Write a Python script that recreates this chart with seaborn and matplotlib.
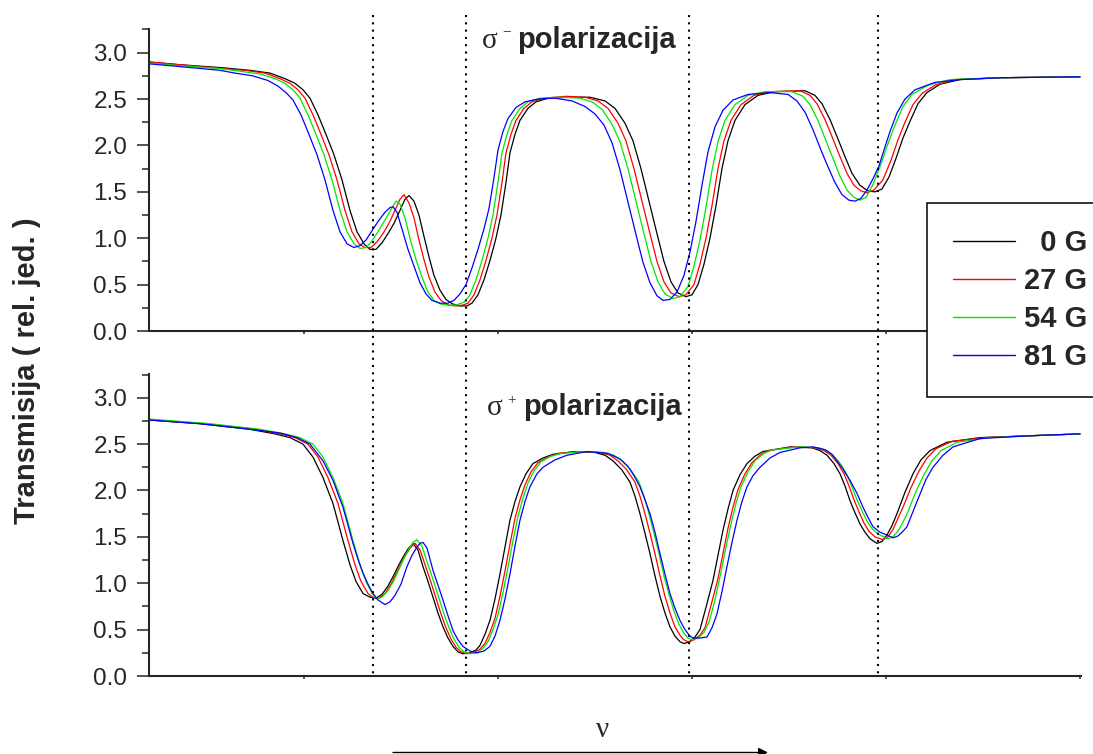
import matplotlib
matplotlib.use('Agg')
import matplotlib.pyplot as plt
import matplotlib.transforms as mtransforms
from matplotlib.lines import Line2D
from matplotlib.patches import FancyArrowPatch
from matplotlib.ticker import MultipleLocator
import seaborn as sns
import pandas as pd

sns.set_style('ticks')
plt.rcParams['font.family'] = ['Liberation Sans', 'DejaVu Sans']

## podaci ocitani sa slike: (frekvencija u rel. jed., transmisija)
polja = ['0 G', '27 G', '54 G', '81 G']
boje = ['#000000', '#ff0000', '#00e600', '#0000ff']

## sigma- polarizacija
minus_0G = [(149, 2.90), (180, 2.87), (220, 2.84), (250, 2.81), (270, 2.78), (285, 2.72), (295, 2.67),
            (303, 2.60), (310, 2.51), (318, 2.33), (326, 2.12), (334, 1.90), (342, 1.63), (350, 1.30),
            (357, 1.07), (364, 0.94), (370, 0.88), (376, 0.88), (382, 0.95), (388, 1.05), (394, 1.16),
            (400, 1.30), (405, 1.42), (409, 1.46), (414, 1.40), (419, 1.25), (424, 1.02), (429, 0.80),
            (434, 0.60), (440, 0.44), (446, 0.34), (453, 0.29), (460, 0.27), (467, 0.27), (472, 0.30),
            (478, 0.39), (484, 0.55), (490, 0.76), (496, 1.00), (501, 1.25), (506, 1.60), (510, 1.92),
            (515, 2.12), (520, 2.27), (528, 2.40), (536, 2.47), (548, 2.51), (570, 2.52), (590, 2.52),
            (605, 2.48), (615, 2.40), (625, 2.24), (633, 2.05), (641, 1.75), (649, 1.40), (657, 1.05),
            (664, 0.75), (671, 0.53), (678, 0.41), (686, 0.37), (692, 0.39), (698, 0.50), (704, 0.72),
            (710, 1.00), (716, 1.35), (722, 1.75), (728, 2.05), (735, 2.27), (745, 2.44), (758, 2.54),
            (775, 2.58), (805, 2.59), (815, 2.54), (822, 2.45), (830, 2.28), (838, 2.07), (845, 1.88),
            (852, 1.70), (860, 1.57), (868, 1.51), (875, 1.50), (882, 1.53), (889, 1.66), (896, 1.86),
            (903, 2.08), (910, 2.26), (918, 2.45), (927, 2.57), (940, 2.66), (960, 2.71), (1000, 2.73),
            (1080, 2.74)]
minus_27G = [(149, 2.90), (180, 2.87), (220, 2.83), (245, 2.81), (265, 2.78), (280, 2.72), (290, 2.67),
             (298, 2.60), (305, 2.51), (313, 2.33), (321, 2.12), (329, 1.90), (337, 1.63), (345, 1.30),
             (352, 1.07), (359, 0.94), (365, 0.90), (371, 0.90), (377, 0.96), (383, 1.05), (389, 1.16),
             (395, 1.30), (400, 1.42), (404, 1.47), (409, 1.38), (414, 1.22), (419, 0.98), (424, 0.77),
             (429, 0.58), (435, 0.42), (441, 0.33), (448, 0.28), (456, 0.27), (463, 0.28), (468, 0.30),
             (474, 0.39), (480, 0.55), (486, 0.76), (492, 1.00), (497, 1.25), (502, 1.60), (506, 1.92),
             (511, 2.12), (516, 2.27), (524, 2.40), (532, 2.47), (544, 2.51), (566, 2.53), (585, 2.52),
             (598, 2.48), (608, 2.40), (618, 2.24), (626, 2.05), (634, 1.75), (642, 1.40), (650, 1.05),
             (657, 0.75), (664, 0.53), (671, 0.41), (679, 0.37), (686, 0.39), (694, 0.50), (700, 0.72),
             (706, 1.00), (712, 1.35), (718, 1.75), (724, 2.05), (731, 2.27), (741, 2.44), (754, 2.54),
             (771, 2.58), (800, 2.59), (810, 2.54), (817, 2.45), (825, 2.28), (833, 2.07), (840, 1.88),
             (847, 1.70), (854, 1.57), (861, 1.51), (867, 1.49), (874, 1.52), (883, 1.63), (891, 1.84),
             (898, 2.06), (905, 2.25), (913, 2.44), (922, 2.56), (935, 2.65), (955, 2.71), (1000, 2.73),
             (1080, 2.74)]
minus_54G = [(149, 2.89), (180, 2.86), (220, 2.83), (240, 2.80), (260, 2.77), (275, 2.72), (285, 2.67),
             (293, 2.60), (300, 2.51), (308, 2.33), (316, 2.12), (324, 1.90), (332, 1.63), (340, 1.30),
             (347, 1.07), (354, 0.94), (360, 0.89), (366, 0.90), (372, 0.97), (378, 1.07), (384, 1.18),
             (390, 1.29), (396, 1.40), (400, 1.37), (405, 1.22), (410, 1.00), (416, 0.77), (422, 0.58),
             (428, 0.42), (434, 0.33), (441, 0.29), (448, 0.28), (456, 0.28), (464, 0.31), (470, 0.39),
             (476, 0.55), (482, 0.76), (488, 1.00), (493, 1.25), (498, 1.60), (502, 1.92), (507, 2.12),
             (512, 2.27), (520, 2.40), (528, 2.47), (540, 2.51), (560, 2.52), (580, 2.51), (592, 2.47),
             (602, 2.39), (612, 2.23), (620, 2.04), (628, 1.75), (636, 1.40), (644, 1.05), (651, 0.75),
             (658, 0.53), (665, 0.40), (673, 0.35), (680, 0.37), (688, 0.48), (694, 0.70), (700, 0.98),
             (706, 1.33), (712, 1.73), (718, 2.04), (725, 2.27), (735, 2.44), (748, 2.54), (765, 2.58),
             (792, 2.58), (803, 2.53), (810, 2.44), (818, 2.27), (826, 2.05), (833, 1.86), (840, 1.67),
             (847, 1.52), (854, 1.44), (860, 1.41), (866, 1.44), (873, 1.58), (881, 1.80), (888, 2.02),
             (895, 2.22), (903, 2.42), (912, 2.55), (928, 2.65), (950, 2.71), (1000, 2.73), (1080, 2.74)]
minus_81G = [(149, 2.88), (180, 2.85), (220, 2.81), (235, 2.78), (253, 2.75), (268, 2.70), (278, 2.64),
             (286, 2.57), (293, 2.49), (301, 2.33), (309, 2.12), (317, 1.90), (325, 1.63), (333, 1.30),
             (340, 1.07), (347, 0.94), (354, 0.90), (360, 0.92), (366, 0.98), (372, 1.08), (378, 1.18),
             (385, 1.28), (390, 1.33), (393, 1.34), (397, 1.28), (402, 1.10), (408, 0.88), (414, 0.70),
             (420, 0.52), (426, 0.40), (432, 0.33), (440, 0.30), (448, 0.30), (454, 0.33), (460, 0.40),
             (466, 0.50), (472, 0.68), (478, 0.88), (484, 1.10), (489, 1.32), (494, 1.65), (498, 1.95),
             (503, 2.15), (508, 2.29), (516, 2.41), (525, 2.47), (538, 2.50), (555, 2.51), (572, 2.48),
             (585, 2.42), (595, 2.34), (604, 2.22), (612, 2.03), (620, 1.74), (628, 1.39), (636, 1.04),
             (643, 0.74), (650, 0.52), (657, 0.38), (663, 0.33), (670, 0.34), (677, 0.42), (684, 0.60),
             (690, 0.85), (696, 1.18), (702, 1.57), (708, 1.93), (715, 2.20), (723, 2.38), (733, 2.49),
             (748, 2.55), (770, 2.57), (788, 2.55), (797, 2.48), (805, 2.36), (813, 2.17), (821, 1.95),
             (828, 1.77), (835, 1.60), (842, 1.47), (849, 1.41), (855, 1.40), (861, 1.43), (867, 1.52),
             (873, 1.64), (879, 1.78), (884, 1.95), (890, 2.15), (897, 2.35), (905, 2.50), (915, 2.60),
             (935, 2.68), (960, 2.71), (1000, 2.73), (1080, 2.74)]

## sigma+ polarizacija
plus_0G = [(149, 2.76), (200, 2.72), (250, 2.66), (275, 2.61), (290, 2.57), (303, 2.50), (313, 2.36),
           (323, 2.14), (333, 1.86), (343, 1.46), (350, 1.20), (356, 1.02), (363, 0.89), (370, 0.85),
           (376, 0.84), (382, 0.88), (388, 0.97), (393, 1.07), (398, 1.18), (403, 1.28), (408, 1.37),
           (413, 1.43), (418, 1.36), (423, 1.18), (428, 1.02), (433, 0.85), (438, 0.68), (443, 0.53),
           (448, 0.41), (453, 0.32), (458, 0.26), (463, 0.24), (470, 0.25), (476, 0.28), (480, 0.33),
           (485, 0.45), (490, 0.60), (495, 0.83), (500, 1.10), (505, 1.39), (510, 1.68), (515, 1.88),
           (520, 2.04), (526, 2.18), (533, 2.29), (543, 2.35), (553, 2.39), (575, 2.42), (595, 2.41),
           (605, 2.38), (613, 2.32), (622, 2.22), (630, 2.09), (635, 1.94), (640, 1.75), (645, 1.54),
           (650, 1.32), (655, 1.08), (660, 0.86), (665, 0.68), (670, 0.53), (675, 0.43), (680, 0.37),
           (684, 0.35), (690, 0.37), (695, 0.42), (700, 0.50), (706, 0.74), (713, 1.03), (718, 1.30),
           (723, 1.57), (728, 1.80), (733, 2.00), (740, 2.17), (747, 2.29), (755, 2.37), (763, 2.42),
           (790, 2.47), (812, 2.46), (820, 2.43), (827, 2.38), (834, 2.29), (840, 2.18), (845, 2.05),
           (850, 1.89), (855, 1.76), (860, 1.64), (865, 1.55), (870, 1.48), (877, 1.43), (882, 1.45),
           (887, 1.52), (892, 1.62), (897, 1.75), (905, 1.98), (913, 2.18), (921, 2.33), (930, 2.43),
           (947, 2.52), (980, 2.57), (1030, 2.59), (1080, 2.61)]
plus_27G = [(149, 2.76), (205, 2.72), (255, 2.66), (280, 2.61), (295, 2.57), (308, 2.50), (318, 2.36),
            (328, 2.14), (338, 1.86), (348, 1.46), (355, 1.20), (361, 1.02), (368, 0.89), (374, 0.84),
            (379, 0.84), (385, 0.89), (391, 0.99), (396, 1.10), (401, 1.21), (406, 1.31), (411, 1.39),
            (415, 1.43), (420, 1.36), (426, 1.17), (431, 1.01), (436, 0.84), (441, 0.67), (446, 0.52),
            (451, 0.40), (456, 0.31), (461, 0.26), (467, 0.24), (474, 0.25), (480, 0.29), (485, 0.35),
            (490, 0.47), (495, 0.62), (500, 0.86), (505, 1.13), (510, 1.42), (515, 1.70), (520, 1.90),
            (525, 2.06), (531, 2.20), (538, 2.30), (548, 2.36), (558, 2.40), (580, 2.42), (600, 2.41),
            (610, 2.38), (618, 2.32), (627, 2.22), (635, 2.09), (640, 1.94), (645, 1.75), (650, 1.54),
            (655, 1.32), (660, 1.08), (665, 0.86), (670, 0.68), (675, 0.53), (680, 0.44), (684, 0.39),
            (688, 0.37), (694, 0.39), (700, 0.44), (705, 0.52), (711, 0.76), (718, 1.05), (723, 1.32),
            (728, 1.59), (733, 1.82), (738, 2.01), (745, 2.18), (752, 2.30), (760, 2.38), (768, 2.43),
            (795, 2.47), (816, 2.46), (824, 2.43), (831, 2.38), (838, 2.29), (844, 2.18), (849, 2.05),
            (854, 1.90), (859, 1.77), (864, 1.65), (869, 1.56), (875, 1.50), (883, 1.47), (888, 1.50),
            (893, 1.58), (898, 1.70), (903, 1.82), (911, 2.03), (919, 2.21), (927, 2.35), (936, 2.45),
            (952, 2.53), (985, 2.57), (1030, 2.59), (1080, 2.61)]
plus_54G = [(149, 2.77), (210, 2.72), (260, 2.66), (285, 2.61), (300, 2.57), (313, 2.50), (323, 2.36),
            (333, 2.14), (343, 1.86), (353, 1.46), (360, 1.20), (366, 1.02), (372, 0.89), (377, 0.83),
            (382, 0.85), (388, 0.92), (394, 1.03), (399, 1.15), (404, 1.27), (409, 1.37), (413, 1.44),
            (417, 1.47), (422, 1.40), (428, 1.20), (434, 1.01), (439, 0.84), (444, 0.67), (449, 0.52),
            (454, 0.40), (459, 0.31), (464, 0.26), (470, 0.24), (477, 0.25), (483, 0.30), (488, 0.37),
            (493, 0.50), (498, 0.66), (503, 0.90), (508, 1.17), (513, 1.46), (518, 1.72), (523, 1.92),
            (528, 2.08), (534, 2.21), (541, 2.31), (551, 2.37), (562, 2.40), (585, 2.42), (604, 2.41),
            (614, 2.38), (622, 2.32), (631, 2.22), (639, 2.09), (644, 1.94), (649, 1.75), (654, 1.54),
            (659, 1.32), (664, 1.08), (669, 0.88), (674, 0.70), (679, 0.56), (684, 0.46), (688, 0.41),
            (692, 0.39), (698, 0.41), (704, 0.47), (709, 0.58), (715, 0.82), (721, 1.12), (726, 1.39),
            (731, 1.64), (736, 1.86), (741, 2.04), (748, 2.20), (755, 2.32), (764, 2.40), (773, 2.44),
            (800, 2.47), (819, 2.46), (827, 2.43), (834, 2.37), (841, 2.28), (847, 2.17), (852, 2.04),
            (857, 1.90), (862, 1.78), (867, 1.67), (872, 1.59), (878, 1.53), (888, 1.48), (893, 1.50),
            (898, 1.56), (903, 1.66), (908, 1.77), (916, 1.99), (924, 2.17), (932, 2.32), (941, 2.43),
            (957, 2.52), (990, 2.57), (1030, 2.59), (1080, 2.61)]
plus_81G = [(149, 2.76), (200, 2.72), (250, 2.66), (280, 2.62), (297, 2.57), (310, 2.50), (323, 2.32),
            (333, 2.11), (343, 1.82), (353, 1.43), (358, 1.26), (363, 1.11), (368, 0.99), (373, 0.89),
            (378, 0.82), (385, 0.77), (390, 0.80), (395, 0.87), (401, 0.99), (407, 1.18), (412, 1.30),
            (417, 1.39), (420, 1.43), (423, 1.44), (427, 1.38), (433, 1.14), (438, 0.98), (443, 0.82),
            (448, 0.65), (453, 0.49), (458, 0.39), (463, 0.32), (470, 0.27), (477, 0.25), (484, 0.27),
            (490, 0.32), (495, 0.43), (500, 0.60), (505, 0.83), (510, 1.10), (515, 1.40), (520, 1.68),
            (525, 1.88), (530, 2.04), (537, 2.18), (543, 2.25), (555, 2.33), (567, 2.38), (587, 2.42),
            (608, 2.40), (620, 2.34), (628, 2.26), (634, 2.16), (640, 2.04), (645, 1.90), (650, 1.75),
            (655, 1.55), (660, 1.32), (665, 1.10), (670, 0.89), (675, 0.73), (680, 0.60), (685, 0.50),
            (690, 0.43), (693, 0.41), (700, 0.41), (707, 0.42), (712, 0.52), (717, 0.67), (722, 0.91),
            (727, 1.18), (732, 1.44), (737, 1.68), (742, 1.88), (747, 2.04), (753, 2.16), (760, 2.25),
            (770, 2.35), (780, 2.41), (800, 2.46), (813, 2.47), (825, 2.44), (832, 2.39), (837, 2.32),
            (843, 2.23), (850, 2.11), (857, 1.97), (863, 1.82), (868, 1.71), (873, 1.61), (880, 1.55),
            (887, 1.52), (893, 1.49), (898, 1.51), (903, 1.56), (907, 1.61), (914, 1.80), (920, 1.96),
            (926, 2.12), (933, 2.25), (943, 2.38), (953, 2.47), (980, 2.56), (1030, 2.59), (1080, 2.61)]

## polozaji rezonancija (isprekidane linije) i oznake na x osi
rezonancije = [373.5, 466, 689.5, 878.3]
x_oznake = [304, 498, 692, 886, 1080]

rows = []
for panel, serije in [('minus', [minus_0G, minus_27G, minus_54G, minus_81G]),
                      ('plus', [plus_0G, plus_27G, plus_54G, plus_81G])]:
    for polje, tocke in zip(polja, serije):
        for nu, t in tocke:
            rows.append((panel, polje, nu, t))
df = pd.DataFrame(rows, columns=['panel', 'polje', 'nu', 'T'])

fig = plt.figure(figsize=(10.93, 7.54), dpi=100)
ax1 = fig.add_axes([0.1363, 0.561, 0.8527, 0.4005])
ax2 = fig.add_axes([0.1363, 0.1034, 0.8527, 0.4005])

for ax, panel in [(ax1, 'minus'), (ax2, 'plus')]:
    sns.lineplot(data=df[df['panel'] == panel], x='nu', y='T', hue='polje', hue_order=polja,
                 palette=dict(zip(polja, boje)), estimator=None, sort=False, lw=0.9,
                 legend=False, ax=ax)
    ax.set_xlim(149, 1081)
    ax.set_ylim(0, 3.255)
    ax.set_xlabel('')
    ax.set_ylabel('')
    ax.set_xticks(x_oznake)
    ax.set_xticklabels([])
    ax.yaxis.set_major_locator(MultipleLocator(0.5))
    ax.yaxis.set_minor_locator(MultipleLocator(0.25))
    ax.tick_params(axis='y', which='major', length=8.6, width=1.1, labelsize=17.5, pad=7)
    ax.tick_params(axis='y', which='minor', length=5, width=1.1)
    ax.tick_params(axis='x', which='major', length=2, width=1.1)
    for s in ['top', 'right']:
        ax.spines[s].set_visible(False)
    for s in ['left', 'bottom']:
        ax.spines[s].set_linewidth(1.5)
    ax.patch.set_alpha(0)

## natpisi polarizacije
ax1.text(0.357, 0.936, 'σ', transform=ax1.transAxes, family='Liberation Serif', fontsize=21, va='baseline')
ax1.text(0.3836, 0.990, '−', transform=ax1.transAxes, family='Liberation Serif', fontsize=11,
         ha='center', va='center')
ax1.text(0.3947, 0.936, 'polarizacija', transform=ax1.transAxes, fontsize=21, weight='bold', va='baseline')
ax2.text(0.363, 0.864, 'σ', transform=ax2.transAxes, family='Liberation Serif', fontsize=21, va='baseline')
ax2.text(0.389, 0.9106, '+', transform=ax2.transAxes, family='Liberation Serif', fontsize=11,
         ha='center', va='center')
ax2.text(0.4016, 0.864, 'polarizacija', transform=ax2.transAxes, fontsize=21, weight='bold', va='baseline')

## isprekidane vertikalne linije kroz oba grafa
trans = mtransforms.blended_transform_factory(ax1.transData, fig.transFigure)
for xv in rezonancije:
    fig.add_artist(Line2D([xv, xv], [0.980, 0.1034], transform=trans, color='black', lw=1.5,
                          linestyle=(0, (1, 2.5))))

## legenda
handles = [Line2D([], [], color=c, lw=1.0) for c in boje]
leg = fig.legend(handles, ['  0 G', '27 G', '54 G', '81 G'], loc='upper left',
                 bbox_to_anchor=(0.848, 0.7308), bbox_transform=fig.transFigure,
                 frameon=True, fancybox=False, edgecolor='black', framealpha=1,
                 borderaxespad=0, borderpad=0.9, handlelength=2.12, handletextpad=0.3,
                 labelspacing=0.34, prop={'weight': 'bold', 'size': 21})
leg.get_frame().set_linewidth(1.1)

## oznaka y osi
fig.text(0.0247, 0.509, 'Transmisija ( rel. jed. )', rotation=90, ha='center', va='center',
         fontsize=21, weight='bold')

## frekvencija sa strelicom
fig.text(0.551, 0.0318, 'ν', family='Liberation Serif', fontsize=21, ha='center', va='center')
fig.add_artist(FancyArrowPatch((393 / 1093, 0.002), (768 / 1093, 0.002), transform=fig.transFigure,
                               arrowstyle='-|>', mutation_scale=14, lw=1.0, color='black',
                               shrinkA=0, shrinkB=0))

fig.savefig('out.png', dpi=100)
